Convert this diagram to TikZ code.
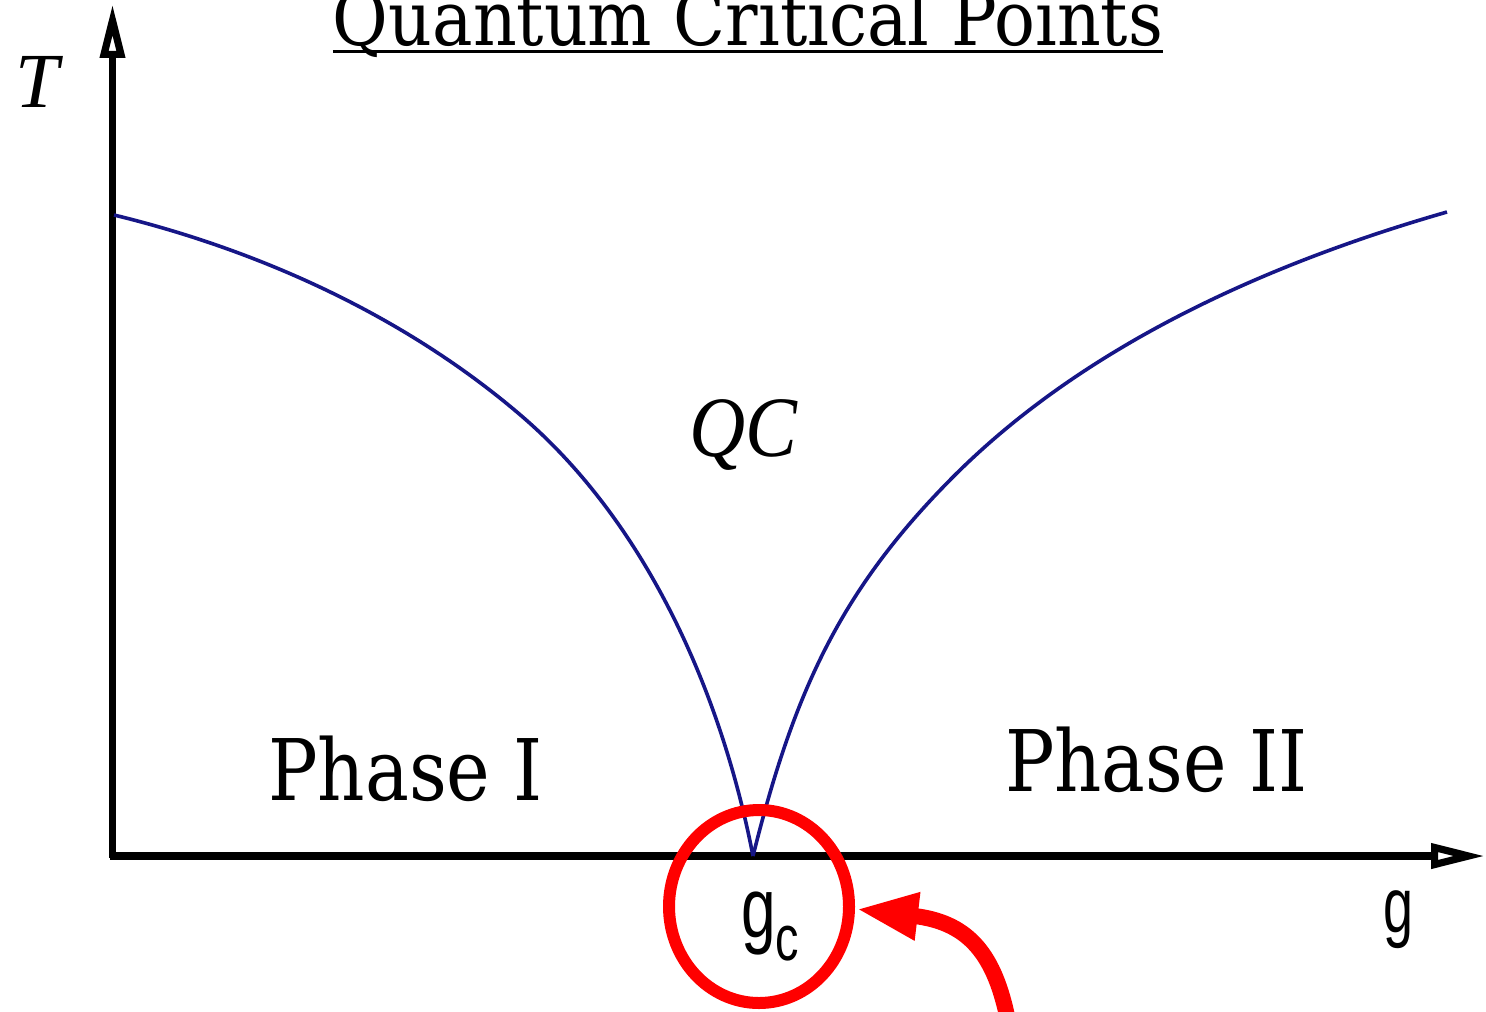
\documentclass[tikz,border=0pt]{standalone}
\usepackage{fontspec}
\usepackage{graphicx}
\usetikzlibrary{arrows.meta,shapes.geometric}
\newfontfamily\djserif{DejaVu Serif}
\newfontfamily\lsans{Liberation Sans}
\newfontfamily\tserif{Liberation Serif}
\definecolor{curveblue}{RGB}{22,22,135}
\definecolor{markred}{RGB}{255,0,0}
\begin{document}
\begin{tikzpicture}[x=0.5pt,y=-0.5pt,
  lbl/.style={inner sep=0pt,outer sep=0pt},
  axisline/.style={line width=3.6pt,-{Triangle[open,length=27pt,width=12pt]}},
  phaseline/.style={curveblue,line width=1.8pt,line join=round},
  ringstyle/.style={draw=markred,line width=6pt,ellipse,inner sep=0pt,minimum width=90pt,minimum height=96.5pt},
  redarrow/.style={markred,line width=8pt,-{Triangle[length=31pt,width=22pt]}}]
\clip (0,0) rectangle (1486,1011);
\fill[white] (0,0) rectangle (1486,1011);

% title
\node[lbl,anchor=base] (title) at (748,46)
  {\resizebox{415pt}{\height}{\fontsize{38}{42}\djserif Quantum Critical Points}};
\draw[line width=1.6pt] (title.west |- 0,51.5) -- (title.east |- 0,51.5);

% axes
\coordinate (origin) at (112.5,858);
\coordinate (ytip) at (112.5,4);
\coordinate (xorigin) at (110,856);
\coordinate (xtip) at (1485,856);
\draw[axisline] (origin) -- (ytip);
\draw[axisline] (xorigin) -- (xtip);

% axis labels
\node[lbl,anchor=base west] (tlabel) at (16,107) {\fontsize{39}{42}\tserif\itshape T};
\node[lbl,anchor=base west] (glabel) at (1383,932)
  {\resizebox{15pt}{\height}{\fontsize{39}{42}\lsans g}};
\node[lbl,anchor=base west] (gclabel) at (741,937)
  {\resizebox{29pt}{\height}{\fontsize{42.5}{44}\lsans g\raisebox{-11.5pt}{\fontsize{32}{34}\selectfont c}}};

% phase boundaries
\coordinate (leftend) at (114,215);
\coordinate (leftmid) at (521,415.5);
\coordinate (cusp) at (753,856);
\coordinate (rightmid) at (954,476);
\coordinate (rightend) at (1447,212);
\draw[phaseline] (leftend) .. controls (262,251) and (406.3,317.2) .. (leftmid)
  .. controls (647,523.5) and (721.3,693) .. (cusp);
\draw[phaseline] (cusp) .. controls (794,691) and (841,589) .. (rightmid)
  .. controls (1085.5,344.5) and (1268.2,263.3) .. (rightend);

% region labels
\node[lbl,anchor=base west] (qc) at (689,456)
  {\resizebox{54pt}{\height}{\fontsize{43}{46}\tserif\itshape QC}};
\node[lbl,anchor=base west] (phaseone) at (268,800)
  {\resizebox{137.5pt}{\height}{\fontsize{42.5}{46}\djserif Phase I}};
\node[lbl,anchor=base west] (phasetwo) at (1005,791)
  {\resizebox{151.5pt}{\height}{\fontsize{42.5}{46}\djserif Phase II}};

% red highlight ring and arrow
\node[ringstyle] (ring) at (759,906.5) {};
\coordinate (arrowstart) at (1007,1016);
\coordinate (arrowtip) at (856,909);
\draw[redarrow] (arrowstart) .. controls (993,950) and (965,922) .. (arrowtip);
\end{tikzpicture}
\end{document}
